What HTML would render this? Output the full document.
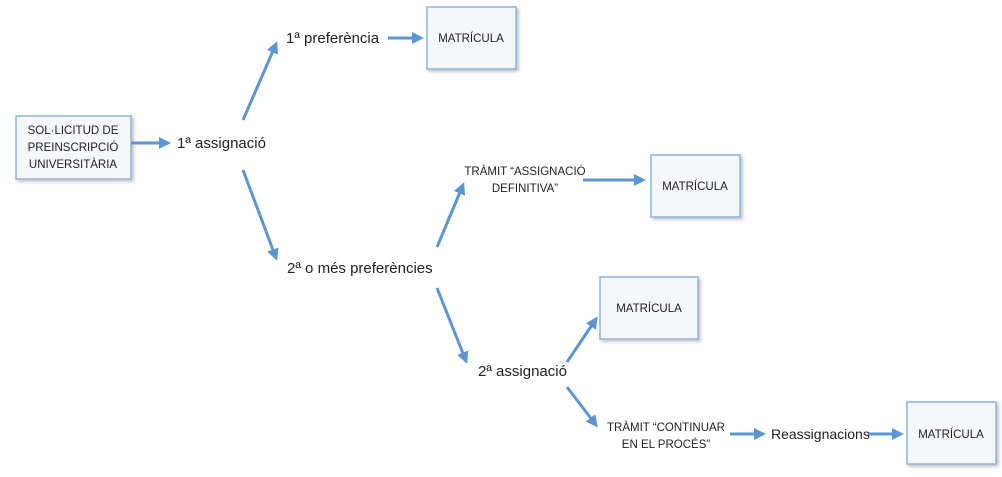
<!DOCTYPE html>
<html><head><meta charset="utf-8"><style>
body{margin:0;background:#fff;width:1002px;height:477px;overflow:hidden}
svg{display:block}
text{font-family:"Liberation Sans",sans-serif;fill:#222}
.b{fill:#f5f7fb;stroke:#8cb2de;stroke-width:1.5}
.a{stroke:#5b95d3;stroke-width:3;fill:none}
.s{font-size:11.5px}
.m{font-size:15px}
</style></head><body>
<svg width="1002" height="477" viewBox="0 0 1002 477">
<defs><marker id="h" markerWidth="4" markerHeight="4" refX="3" refY="2" orient="auto" markerUnits="strokeWidth"><path d="M0,0 L4,2 L0,4 Z" fill="#5b95d3"/></marker>
<filter id="sh"><feDropShadow dx="2" dy="2" stdDeviation="1.5" flood-color="#000" flood-opacity="0.25"/></filter></defs>
<g filter="url(#sh)">
<rect class="b" x="16" y="116" width="115" height="63"/>
<rect class="b" x="427" y="7" width="89" height="62"/>
<rect class="b" x="651" y="155" width="89" height="62"/>
<rect class="b" x="600" y="277" width="98" height="62"/>
<rect class="b" x="907" y="402" width="89" height="62"/>
</g>
<g class="a" marker-end="url(#h)">
<line x1="131" y1="143" x2="168" y2="143"/>
<line x1="243" y1="120" x2="276" y2="44"/>
<line x1="388" y1="38" x2="421" y2="38"/>
<line x1="243" y1="170" x2="276" y2="258"/>
<line x1="437" y1="247" x2="463" y2="185"/>
<line x1="583" y1="180" x2="643" y2="180"/>
<line x1="437" y1="288" x2="466" y2="361"/>
<line x1="567" y1="362" x2="596" y2="319"/>
<line x1="567" y1="387" x2="596" y2="425"/>
<line x1="730" y1="434" x2="763" y2="434"/>
<line x1="868" y1="434" x2="901" y2="434"/>
</g>
<g class="s" text-anchor="middle">
<text x="73" y="134">SOL·LICITUD DE</text>
<text x="73" y="151">PREINSCRIPCIÓ</text>
<text x="73" y="168">UNIVERSITÀRIA</text>
<text x="471" y="42">MATRÍCULA</text>
<text x="695" y="190">MATRÍCULA</text>
<text x="649" y="312">MATRÍCULA</text>
<text x="951" y="438">MATRÍCULA</text>
<text x="525" y="175">TRÀMIT “ASSIGNACIÓ</text>
<text x="525" y="192">DEFINITIVA”</text>
<text x="666" y="431">TRÀMIT “CONTINUAR</text>
<text x="666" y="448">EN EL PROCÉS”</text>
</g>
<g class="m">
<text x="177" y="148">1ª assignació</text>
<text x="286" y="43">1ª preferència</text>
<text x="287" y="273">2ª o més preferències</text>
<text x="478" y="376">2ª assignació</text>
<text x="771" y="439" style="font-size:14px">Reassignacions</text>
</g>
</svg>
</body></html>
